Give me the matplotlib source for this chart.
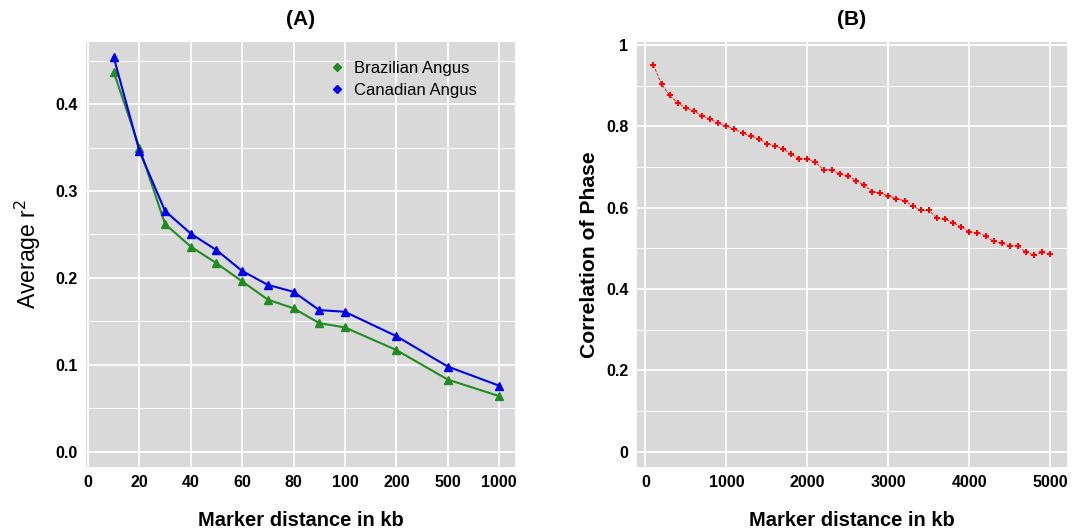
import matplotlib.pyplot as plt
import numpy as np
from matplotlib.lines import Line2D

plt.rcParams['font.family'] = ['Liberation Sans', 'DejaVu Sans']

# panel A: average r2 by marker distance
dist_a = [10, 20, 30, 40, 50, 60, 70, 80, 90, 100, 200, 500, 1000]
brazilian = [0.437, 0.350, 0.262, 0.236, 0.217, 0.196, 0.175, 0.165, 0.148,
             0.143, 0.117, 0.083, 0.064]
canadian = [0.454, 0.346, 0.277, 0.251, 0.232, 0.208, 0.192, 0.184, 0.163,
            0.161, 0.133, 0.098, 0.076]
ticks_a = [0, 20, 40, 60, 80, 100, 200, 500, 1000]

# panel B: correlation of phase
dist_b = np.arange(100, 5001, 100)
corr_phase = [0.951, 0.904, 0.876, 0.858, 0.845, 0.838, 0.826, 0.818, 0.808, 0.801,
              0.793, 0.784, 0.776, 0.770, 0.757, 0.752, 0.745, 0.731, 0.721, 0.720,
              0.712, 0.693, 0.693, 0.682, 0.679, 0.666, 0.656, 0.639, 0.637, 0.629,
              0.622, 0.617, 0.604, 0.594, 0.594, 0.574, 0.572, 0.562, 0.553, 0.540,
              0.539, 0.530, 0.517, 0.514, 0.505, 0.507, 0.490, 0.484, 0.490, 0.486]

bg = '#d9d9d9'
fig = plt.figure(figsize=(10.84, 5.32), dpi=100)
axA = fig.add_axes([0.0793, 0.1227, 0.3958, 0.7983])
axB = fig.add_axes([0.5874, 0.1227, 0.3967, 0.7983])

def style(ax):
    ax.set_facecolor(bg)
    for s in ax.spines.values():
        s.set_visible(False)
    ax.grid(True, which='major', color='white', lw=1.3)
    ax.grid(True, which='minor', axis='y', color='white', lw=0.7)
    ax.set_axisbelow(True)
    ax.tick_params(which='both', length=0, pad=6, labelsize=11.5)
    for lab in ax.get_xticklabels() + ax.get_yticklabels():
        lab.set_fontweight('bold')

# --- A ---
pos_a = np.interp(dist_a, ticks_a, np.arange(len(ticks_a)))
axA.plot(pos_a, brazilian, color='#228b22', marker='^', ms=5.5, lw=1.5)
axA.plot(pos_a, canadian, color='#0000ee', marker='^', ms=5.5, lw=1.5)
axA.set_xticks(np.arange(len(ticks_a)))
axA.set_xticklabels([str(t) for t in ticks_a])
axA.set_yticks([0.0, 0.1, 0.2, 0.3, 0.4])
axA.set_yticks([0.05, 0.15, 0.25, 0.35, 0.45], minor=True)
axA.set_xlim(-0.04, 8.31)
axA.set_ylim(-0.0173, 0.4715)
style(axA)
axA.set_xlabel('Marker distance in kb', fontsize=14.5, fontweight='bold', labelpad=15)
axA.set_ylabel('Average r$^2$', fontsize=16.5, labelpad=9)
axA.set_title('(A)', fontsize=15, fontweight='bold', pad=12)
handles = [Line2D([], [], ls='none', marker='D', ms=4, color='#228b22'),
           Line2D([], [], ls='none', marker='D', ms=4, color='#0000ee')]
axA.legend(handles, ['Brazilian Angus', 'Canadian Angus'], loc='upper right',
           bbox_to_anchor=(0.946, 0.99), frameon=False, fontsize=12,
           handlelength=0.8, handletextpad=0.6, labelspacing=0.38)

# --- B ---
axB.plot(dist_b, corr_phase, color='red', ls='--', lw=0.6,
         marker='P', ms=5, mew=0)
axB.set_xticks([0, 1000, 2000, 3000, 4000, 5000])
axB.set_yticks([0, 0.2, 0.4, 0.6, 0.8, 1])
axB.set_yticklabels(['0', '0.2', '0.4', '0.6', '0.8', '1'])
axB.set_yticks([0.1, 0.3, 0.5, 0.7, 0.9], minor=True)
axB.set_xlim(-106, 5202)
axB.set_ylim(-0.0369, 1.0074)
style(axB)
axB.set_xlabel('Marker distance in kb', fontsize=14.5, fontweight='bold', labelpad=15)
axB.set_ylabel('Correlation of Phase', fontsize=15.2, fontweight='bold', labelpad=5)
axB.set_title('(B)', fontsize=15, fontweight='bold', pad=12)

fig.savefig('out.png', dpi=100, facecolor='white')
